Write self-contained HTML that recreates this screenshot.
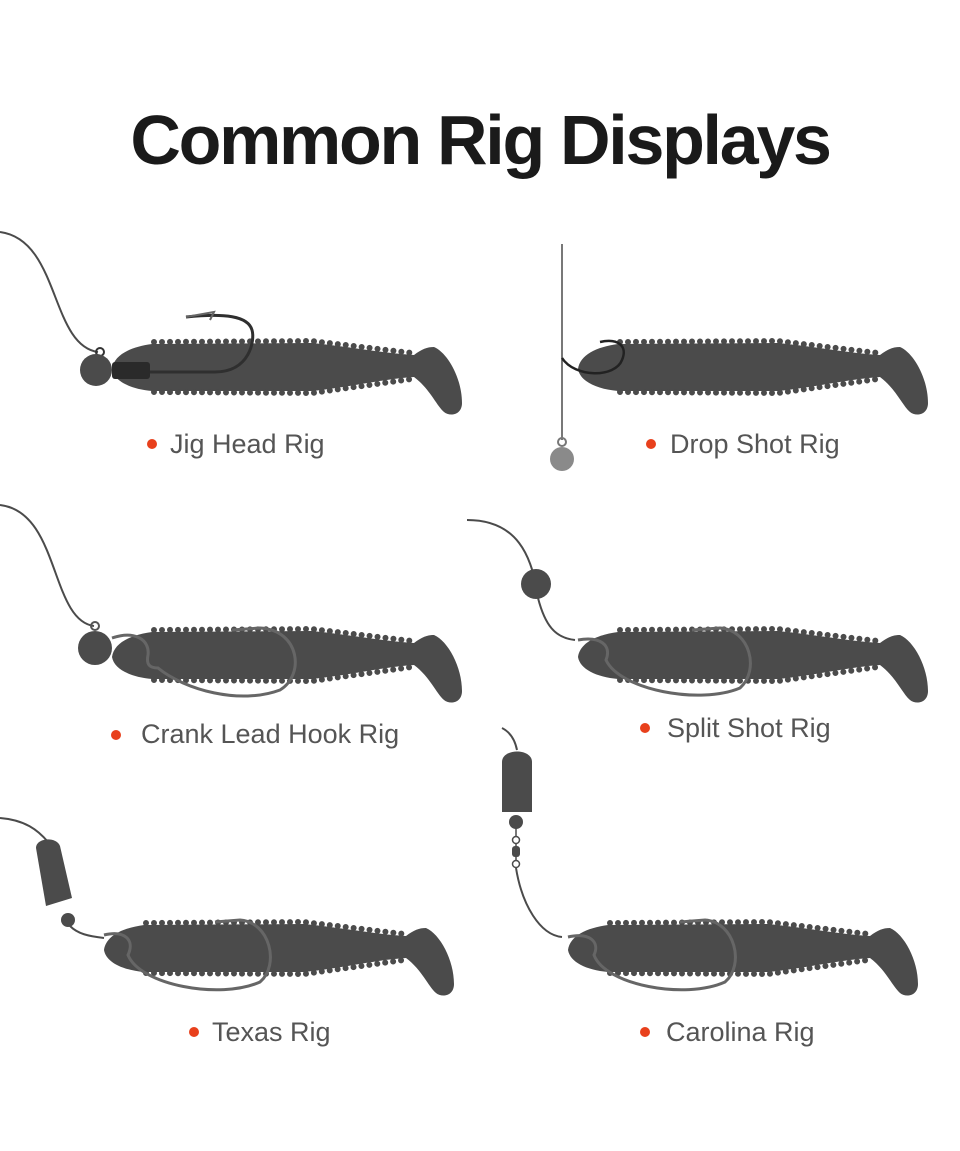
<!DOCTYPE html>
<html><head><meta charset="utf-8"><style>
html,body{margin:0;padding:0;background:#fff;}
body{width:960px;height:1151px;overflow:hidden;position:relative;}
svg{position:absolute;left:0;top:0;}
</style></head><body>
<svg width="960" height="1151" viewBox="0 0 960 1151" xmlns="http://www.w3.org/2000/svg">
<defs>
<g id="fish">
 <path d="M0,2 C2,-12 18,-20 40,-23 L200,-24 C240,-20 270,-14 302,-12 C310,-18 315,-20 322,-20 C336,-14 350,12 350,36 C350,48 338,50 332,45 C324,38 318,22 302,10 C270,12 240,20 200,24 L40,24 C18,22 2,14 0,2 Z" fill="#4b4b4b"/>
 <path d="M42,-25 L200,-26 L300,-14" fill="none" stroke="#4b4b4b" stroke-width="6" stroke-linecap="round" stroke-dasharray="0 8"/>
 <path d="M42,25 L200,26 L300,12" fill="none" stroke="#4b4b4b" stroke-width="6" stroke-linecap="round" stroke-dasharray="0 8"/>
</g>
</defs>
<text x="480" y="164" text-anchor="middle" font-family="Liberation Sans, sans-serif" font-weight="bold" font-size="70" fill="#1a1a1a" letter-spacing="-2.3">Common Rig Displays</text>

<!-- Jig head -->
<path d="M0,232 C60,240 50,345 98,352" fill="none" stroke="#4b4b4b" stroke-width="2"/>
<use href="#fish" x="112" y="367"/>
<circle cx="100" cy="352" r="4" fill="none" stroke="#333" stroke-width="2"/>
<circle cx="96" cy="370" r="16" fill="#4b4b4b"/>
<rect x="112" y="362" width="38" height="17" rx="3" fill="#2a2a2a"/>
<path d="M150,372 L215,372 C250,372 255,340 252,330 C248,316 225,313 186,317" fill="none" stroke="#2f2f2f" stroke-width="3"/>
<path d="M186,317 L214,312 L210,320" fill="none" stroke="#666" stroke-width="2"/>
<circle cx="152" cy="444" r="5" fill="#e8401c"/>
<text x="170" y="453" font-family="Liberation Sans, sans-serif" font-size="27" fill="#555">Jig Head Rig</text>

<!-- Drop shot -->
<line x1="562" y1="244" x2="562" y2="440" stroke="#4b4b4b" stroke-width="1.5"/>
<use href="#fish" x="578" y="367"/>
<path d="M562,358 C575,378 615,378 622,360 C628,346 618,338 600,342" fill="none" stroke="#222" stroke-width="2.5"/>
<circle cx="562" cy="442" r="4" fill="none" stroke="#777" stroke-width="2"/>
<circle cx="562" cy="459" r="12" fill="#8a8a8a"/>
<circle cx="651" cy="444" r="5" fill="#e8401c"/>
<text x="670" y="453" font-family="Liberation Sans, sans-serif" font-size="27" fill="#555">Drop Shot Rig</text>

<!-- Crank -->
<path d="M0,505 C60,512 50,620 94,626" fill="none" stroke="#4b4b4b" stroke-width="2"/>
<use href="#fish" x="112" y="655"/>
<circle cx="95" cy="626" r="4" fill="none" stroke="#555" stroke-width="2"/>
<circle cx="95" cy="648" r="17" fill="#4b4b4b"/>
<path d="M112,638 C135,630 150,640 148,655 C146,665 150,668 158,668 C185,690 240,705 280,690 C305,675 300,630 260,628 L232,630" fill="none" stroke="#666" stroke-width="3"/>
<circle cx="116" cy="735" r="5" fill="#e8401c"/>
<text x="141" y="743" font-family="Liberation Sans, sans-serif" font-size="27" fill="#555">Crank Lead Hook Rig</text>

<!-- Split shot -->
<path d="M467,520 C520,520 530,560 536,584" fill="none" stroke="#4b4b4b" stroke-width="2"/>
<circle cx="536" cy="584" r="15" fill="#4b4b4b"/>
<path d="M538,598 C545,625 555,638 575,640" fill="none" stroke="#4b4b4b" stroke-width="2"/>
<use href="#fish" x="578" y="655"/>
<path d="M578,640 C600,636 612,645 606,660 C620,690 700,705 740,688 C760,670 750,630 720,628 L692,630" fill="none" stroke="#666" stroke-width="3"/>
<circle cx="645" cy="728" r="5" fill="#e8401c"/>
<text x="667" y="737" font-family="Liberation Sans, sans-serif" font-size="27" fill="#555">Split Shot Rig</text>

<!-- Texas -->
<path d="M0,818 C25,820 38,830 48,842" fill="none" stroke="#4b4b4b" stroke-width="2"/>
<path d="M36,848 C36,838 56,836 60,846 L72,898 L46,906 Z" fill="#4b4b4b"/>
<circle cx="68" cy="920" r="7" fill="#4b4b4b"/>
<path d="M70,926 C78,934 88,936 104,938" fill="none" stroke="#4b4b4b" stroke-width="2"/>
<use href="#fish" x="104" y="948"/>
<path d="M104,935 C125,930 135,940 128,955 C140,985 220,1000 260,982 C280,965 270,922 240,920 L215,922" fill="none" stroke="#666" stroke-width="3"/>
<circle cx="194" cy="1032" r="5" fill="#e8401c"/>
<text x="212" y="1041" font-family="Liberation Sans, sans-serif" font-size="27" fill="#555">Texas Rig</text>

<!-- Carolina -->
<path d="M502,728 C510,732 515,740 517,750" fill="none" stroke="#4b4b4b" stroke-width="2"/>
<path d="M502,762 C502,748 532,748 532,762 L532,812 L502,812 Z" fill="#4b4b4b"/>
<circle cx="516" cy="822" r="7" fill="#4b4b4b"/>
<line x1="516" y1="828" x2="516" y2="862" stroke="#4b4b4b" stroke-width="1.5"/>
<circle cx="516" cy="840" r="3.5" fill="#fff" stroke="#4b4b4b" stroke-width="1.5"/>
<rect x="512" y="846" width="8" height="11" rx="3" fill="#4b4b4b"/>
<circle cx="516" cy="864" r="3.5" fill="#fff" stroke="#4b4b4b" stroke-width="1.5"/>
<path d="M516,868 C522,905 540,935 562,937" fill="none" stroke="#4b4b4b" stroke-width="2"/>
<use href="#fish" x="568" y="948"/>
<path d="M568,937 C590,932 600,942 594,955 C605,985 685,1000 725,982 C745,965 735,922 705,920 L680,922" fill="none" stroke="#666" stroke-width="3"/>
<circle cx="645" cy="1032" r="5" fill="#e8401c"/>
<text x="666" y="1041" font-family="Liberation Sans, sans-serif" font-size="27" fill="#555">Carolina Rig</text>
</svg>
</body></html>
